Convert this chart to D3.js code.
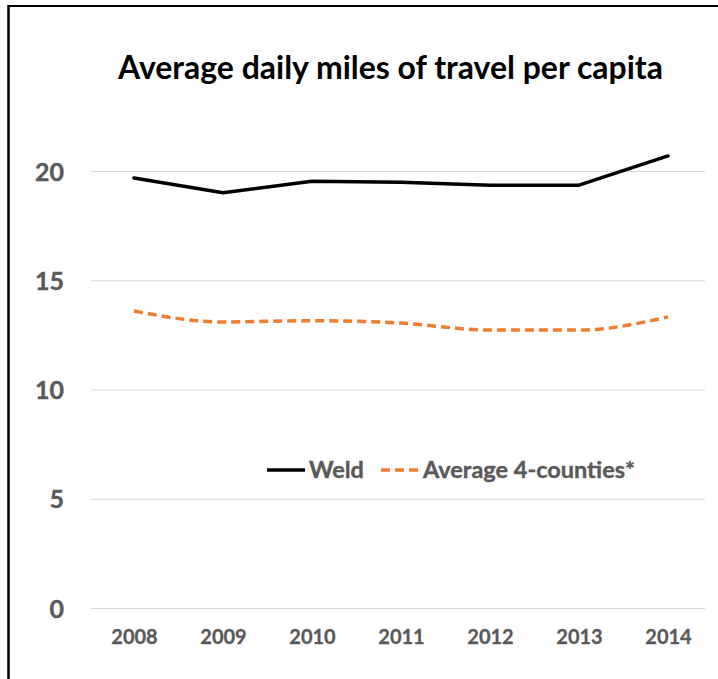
<!DOCTYPE html>
<html>
<head>
<meta charset="utf-8">
<script src="https://cdn.jsdelivr.net/npm/d3@7"></script>
<style>
  html, body { margin: 0; padding: 0; background: #fff; }
  svg { display: block; }
</style>
</head>
<body>
<svg id="chart" width="718" height="679"></svg>
<script>
const years = ["2008", "2009", "2010", "2011", "2012", "2013", "2014"];
const weld = [19.68, 19.0, 19.53, 19.49, 19.35, 19.35, 20.69];
const avg4 = [13.59, 13.09, 13.15, 13.04, 12.72, 12.72, 13.32];
const yTicks = [0, 5, 10, 15, 20];
const seriesNames = ["Weld", "Average 4-counties*"];
const titleText = "Average daily miles of travel per capita";

const svg = d3.select("#chart");
const W = 718, H = 679;
svg.append("rect").attr("width", W).attr("height", H).attr("fill", "#fff");

// frame (top + left)
svg.append("line").attr("x1", 8).attr("x2", W).attr("y1", 6).attr("y2", 6)
  .attr("stroke", "#000").attr("stroke-width", 2);
svg.append("line").attr("x1", 8.5).attr("x2", 8.5).attr("y1", 5).attr("y2", H)
  .attr("stroke", "#000").attr("stroke-width", 2.5);

const gridLeft = 91, gridRight = 705;
const x = d3.scalePoint().domain(years).range([134, 668]);
const y = d3.scaleLinear().domain([0, 20]).range([608, 171]);

const font = "Lato, 'Open Sans', 'Liberation Sans', sans-serif";

function fitWidth(sel, base, target) {
  const w = sel.node().getComputedTextLength();
  sel.attr("font-size", base * target / w);
}

// title
const title = svg.append("text")
  .attr("x", (118 + 663) / 2).attr("y", 79)
  .attr("text-anchor", "middle")
  .attr("font-family", font).attr("font-weight", "bold")
  .attr("font-size", 26).attr("fill", "#000")
  .text(titleText);
fitWidth(title, 26, 545);

// y axis gridlines + labels
const yAxis = d3.axisLeft(y).tickValues(yTicks).tickSize(-(gridRight - gridLeft)).tickPadding(27);
const gy = svg.append("g").attr("transform", `translate(${gridLeft},0)`).call(yAxis);
gy.select(".domain").remove();
gy.selectAll(".tick line").attr("stroke", "#d9d9d9").attr("stroke-width", 1.2);
gy.selectAll(".tick text")
  .attr("font-family", font).attr("font-weight", "bold")
  .attr("font-size", 25).attr("fill", "#595959").attr("dy", "0.36em")
  .attr("stroke", "#595959").attr("stroke-width", 0.4);

// x axis labels
const xAxis = d3.axisBottom(x).tickSize(0).tickPadding(22);
const gx = svg.append("g").attr("transform", `translate(0,608)`).call(xAxis);
gx.select(".domain").remove();
gx.selectAll(".tick text")
  .attr("font-family", font).attr("font-weight", "bold")
  .attr("font-size", 20).attr("fill", "#595959")
  .attr("stroke", "#595959").attr("stroke-width", 0.3);

// lines
const lineStraight = d3.line().x((d, i) => x(years[i])).y(d => y(d));
const lineSmooth = d3.line().x((d, i) => x(years[i])).y(d => y(d)).curve(d3.curveMonotoneX);

svg.append("path").datum(avg4).attr("d", lineSmooth)
  .attr("fill", "none").attr("stroke", "#ED7D31").attr("stroke-width", 3.5)
  .attr("stroke-dasharray", "9,5");
svg.append("path").datum(weld).attr("d", lineStraight)
  .attr("fill", "none").attr("stroke", "#000").attr("stroke-width", 3.5)
  .attr("stroke-linecap", "round").attr("stroke-linejoin", "round");

// legend
const legY = 470;
const leg = svg.append("g");
leg.append("line").attr("x1", 267).attr("x2", 305).attr("y1", legY).attr("y2", legY)
  .attr("stroke", "#000").attr("stroke-width", 3.5);
const t1 = leg.append("text").attr("x", 309).attr("y", legY).attr("dy", "0.36em")
  .attr("font-family", font).attr("font-weight", "bold").attr("font-size", 20)
  .attr("fill", "#595959").attr("stroke", "#595959").attr("stroke-width", 0.4)
  .text(seriesNames[0]);
leg.append("line").attr("x1", 381).attr("x2", 421).attr("y1", legY).attr("y2", legY)
  .attr("stroke", "#ED7D31").attr("stroke-width", 3.5).attr("stroke-dasharray", "9,5");
const t2 = leg.append("text").attr("x", 423).attr("y", legY).attr("dy", "0.36em")
  .attr("font-family", font).attr("font-weight", "bold").attr("font-size", 20)
  .attr("fill", "#595959").attr("stroke", "#595959").attr("stroke-width", 0.4)
  .text(seriesNames[1]);
fitWidth(t2, 20, 212);
t1.attr("font-size", t2.attr("font-size"));
</script>
</body>
</html>
